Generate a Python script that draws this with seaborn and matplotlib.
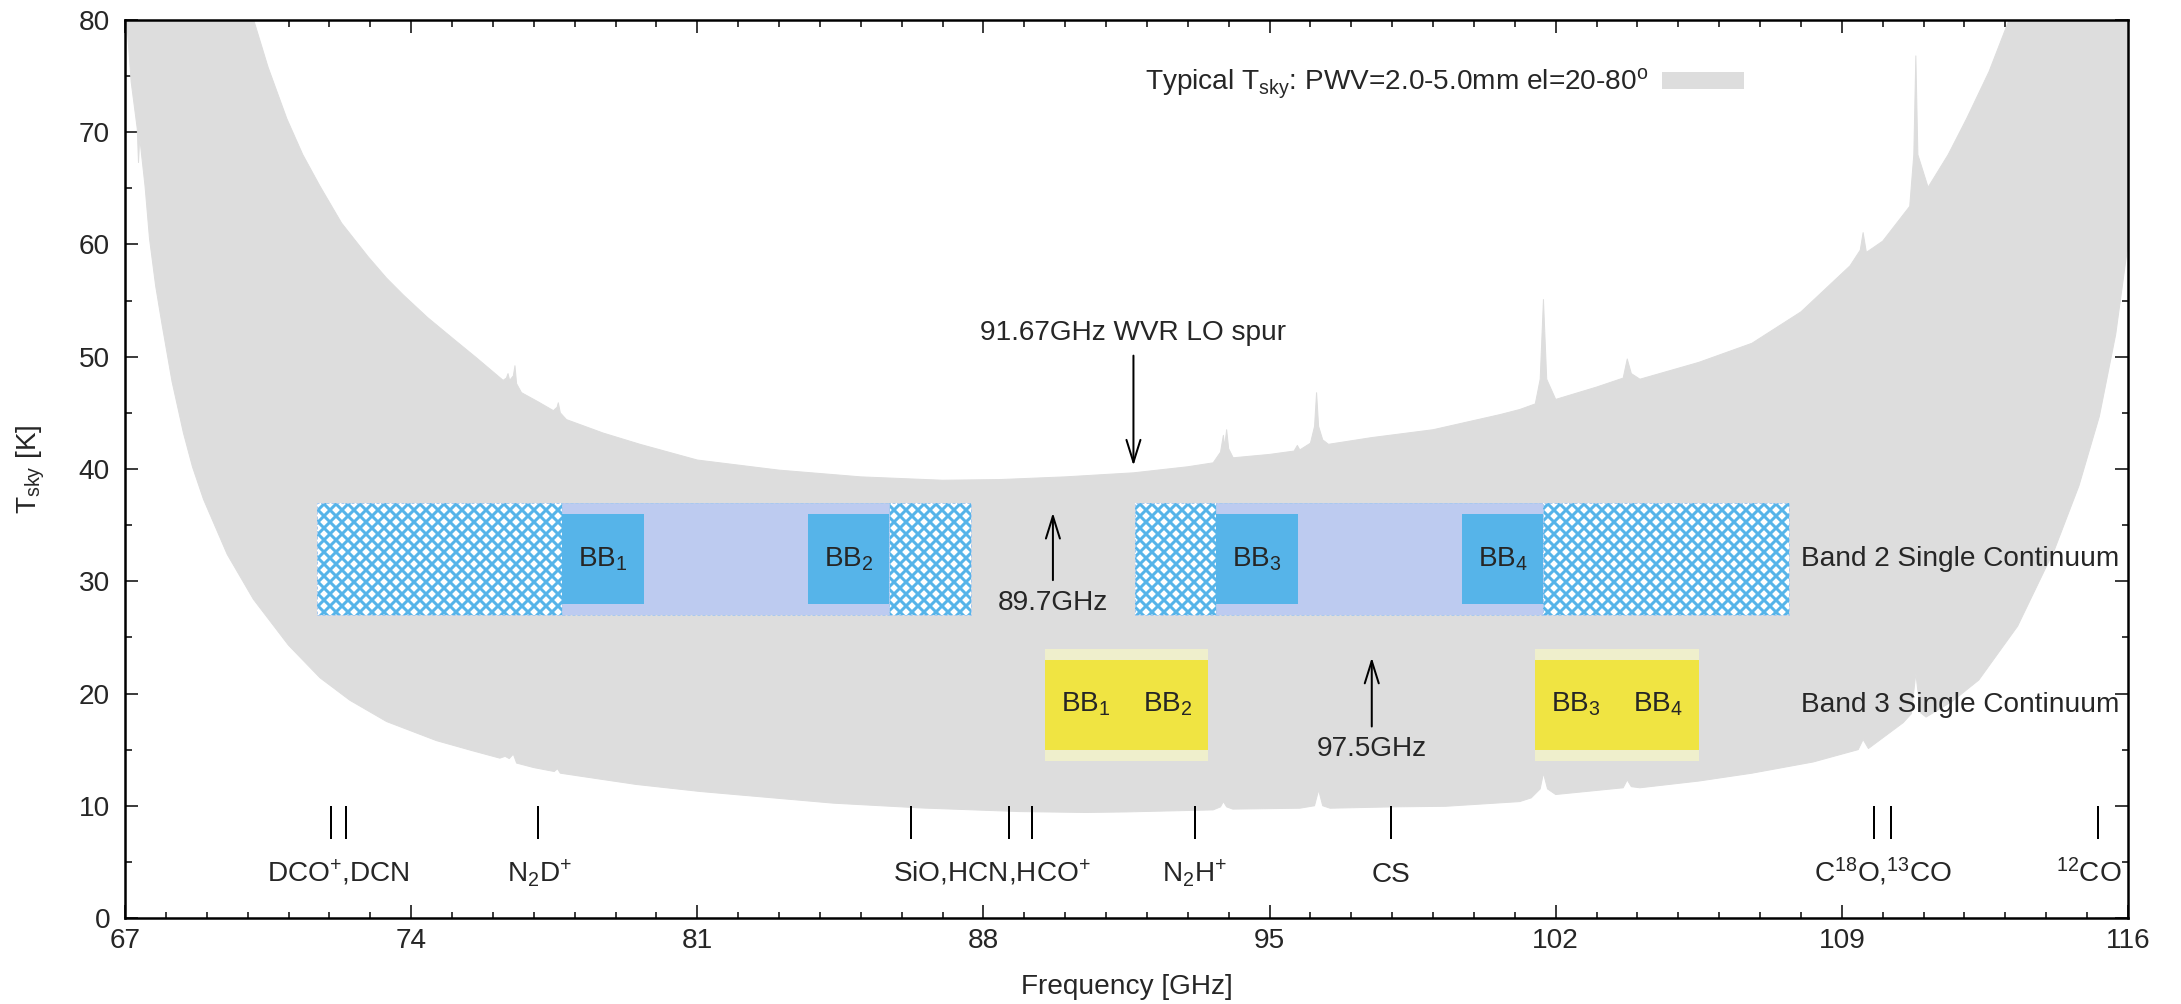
import numpy as np
import pandas as pd
import matplotlib
matplotlib.use("Agg")
import matplotlib.pyplot as plt
import seaborn as sns
from matplotlib.patches import Rectangle

# --- sky temperature envelope ---
# upper edge: PWV=5.0mm, el=20 deg
hi_freq = [69.9, 70.14, 70.5, 70.96, 71.35, 71.77, 72.3, 72.95, 73.4, 73.81, 74.4, 75.03,
           75.6, 76.25, 76.33, 76.37, 76.41, 76.50, 76.54, 76.58, 76.7, 77.1, 77.48, 77.57,
           77.6, 77.65, 77.8, 78.7, 79.6, 81.0, 83.0, 85.0, 87.0, 88.4, 90.0, 91.67, 93.0,
           93.62, 93.8, 93.87, 93.9, 93.95, 94.0, 94.11, 95.0, 95.6, 95.68, 95.74, 96.0,
           96.1, 96.15, 96.2, 96.3, 96.44, 97.5, 99.0, 100.64, 101.12, 101.5, 101.62,
           101.7, 101.78, 102.0, 103.0, 103.65, 103.75, 103.85, 104.06, 105.5, 106.8,
           108.0, 109.2, 109.45, 109.52, 109.6, 110.0, 110.66, 110.76, 110.81, 110.86,
           111.11, 111.6, 112.05, 112.6, 113.1, 113.3]
hi_tsky = [82.5, 80.1, 75.8, 71.2, 68.0, 65.2, 61.9, 58.9, 57.0, 55.5, 53.5, 51.6,
           49.9, 47.9, 48.1, 48.5, 47.9, 48.3, 49.2, 47.6, 46.8, 46.0, 45.2, 45.5,
           45.9, 45.0, 44.4, 43.2, 42.2, 40.8, 39.9, 39.3, 39.0, 39.06, 39.3, 39.66, 40.2,
           40.55, 41.5, 43.0, 42.0, 43.5, 41.8, 41.0, 41.3, 41.6, 42.1, 41.7, 42.3,
           43.8, 46.8, 43.8, 42.6, 42.2, 42.8, 43.5, 44.85, 45.3, 45.8, 48.0,
           55.1, 48.0, 46.2, 47.3, 48.1, 49.8, 48.5, 48.0, 49.5, 51.2,
           54.0, 58.1, 59.5, 61.06, 59.3, 60.3, 63.4, 68.0, 76.8, 68.0,
           65.1, 68.0, 71.2, 75.4, 80.1, 82.5]

# lower edge: PWV=2.0mm, el=80 deg
lo_freq = [67.0, 67.04, 67.15, 67.3, 67.33, 67.36, 67.49, 67.6, 67.75, 67.9, 68.15, 68.43,
           68.65, 68.92, 69.5, 70.14, 71.0, 71.77, 72.5, 73.4, 74.62, 75.5, 76.17, 76.3,
           76.4, 76.5, 76.58, 77.0, 77.5, 77.58, 77.65, 78.2, 79.5, 81.07, 84.33, 86.5,
           88.89, 90.5, 91.5, 93.62, 93.8, 93.87, 93.95, 94.1, 95.74, 96.1, 96.2, 96.3,
           96.48, 98.0, 99.3, 101.12, 101.4, 101.62, 101.7, 101.8, 102.0, 103.65, 103.75,
           103.85, 104.06, 105.5, 106.8, 108.3, 109.4, 109.52, 109.65, 110.5, 110.7,
           110.81, 110.92, 111.06, 111.7, 112.35, 113.3, 114.2, 114.8, 115.3, 115.7,
           116.0, 116.3]
lo_tsky = [82.0, 80.0, 74.5, 70.3, 67.3, 69.5, 65.2, 60.5, 56.3, 53.0, 47.8, 43.2,
           40.2, 37.3, 32.4, 28.4, 24.3, 21.4, 19.4, 17.5, 15.8, 14.9, 14.24, 14.4,
           14.2, 14.6, 13.8, 13.4, 13.05, 13.3, 12.9, 12.6, 11.9, 11.27, 10.23, 9.8,
           9.48, 9.4, 9.45, 9.63, 9.9, 10.37, 9.9, 9.7, 9.78, 10.0, 11.4, 10.0,
           9.78, 9.9, 9.95, 10.37, 10.7, 11.5, 12.9, 11.5, 11.0, 11.6, 12.3,
           11.7, 11.6, 12.2, 12.9, 13.9, 15.0, 15.9, 15.1, 17.4, 18.2,
           21.8, 18.3, 17.9, 19.3, 21.2, 26.0, 32.8, 38.5, 44.7, 52.0,
           60.0, 82.0]

# --- spectral lines ---
line_freq = [72.04, 72.41, 77.11, 86.24, 88.63, 89.19, 93.17, 97.98, 109.78, 110.20, 115.27]
line_labels = ["DCO$^{+}$,DCN", "N$_{2}$D$^{+}$", "SiO,HCN,HCO$^{+}$", "N$_{2}$H$^{+}$",
               "CS", "C$^{18}$O,$^{13}$CO", "$^{12}$CO"]
line_label_x = [72.23, 77.15, 88.2, 93.17, 97.98, 110.0, 115.05]

# --- Band 2 single continuum (LO 89.7 GHz) ---
b2_hatch = [(71.7, 77.7), (85.7, 87.7), (91.7, 93.7), (101.7, 107.7)]
b2_side = [(77.7, 85.7), (93.7, 101.7)]
b2_bb = [(77.7, 79.7), (83.7, 85.7), (93.7, 95.7), (99.7, 101.7)]
b2_bb_names = ["BB$_{1}$", "BB$_{2}$", "BB$_{3}$", "BB$_{4}$"]

# --- Band 3 single continuum (LO 97.5 GHz) ---
b3_side = [(89.5, 93.5), (101.5, 105.5)]
b3_bb_x = [90.5, 92.5, 102.5, 104.5]
b3_bb_names = ["BB$_{1}$", "BB$_{2}$", "BB$_{3}$", "BB$_{4}$"]

GRAY = "#dddddd"
SKY = "#56b4e9"
LAVENDER = "#bdcbf0"
YELLOW = "#f0e442"
PALE_YELLOW = "#efefcc"
FS = 28

sns.set_style("ticks")
plt.rcParams["font.family"] = ["Liberation Sans", "DejaVu Sans"]
plt.rcParams["mathtext.fontset"] = "custom"
plt.rcParams["mathtext.rm"] = "Liberation Sans"
plt.rcParams["mathtext.it"] = "Liberation Sans:italic"
plt.rcParams["mathtext.default"] = "rm"
plt.rcParams["hatch.linewidth"] = 3.0

fig = plt.figure(figsize=(2181 / 72, 1004 / 72), dpi=72)
ax = fig.add_axes([125 / 2181, 86 / 1004, 2003 / 2181, 898 / 1004])

hi = pd.DataFrame({"freq": hi_freq, "tsky": hi_tsky})
lo = pd.DataFrame({"freq": lo_freq, "tsky": lo_tsky})

# envelope between the two curves
poly_x = list(hi["freq"]) + list(lo["freq"][::-1])
poly_y = list(hi["tsky"]) + list(lo["tsky"][::-1])
ax.fill(poly_x, poly_y, color=GRAY, lw=0, zorder=1,
        label="Typical T$_{sky}$: PWV=2.0-5.0mm el=20-80$^{o}$")
sns.lineplot(data=hi, x="freq", y="tsky", color=GRAY, lw=1, ax=ax, zorder=1, sort=False)
sns.lineplot(data=lo, x="freq", y="tsky", color=GRAY, lw=1, ax=ax, zorder=1, sort=False)

# band 2 boxes
for x0, x1 in b2_hatch:
    ax.add_patch(Rectangle((x0, 27), x1 - x0, 10, facecolor="white", edgecolor=SKY,
                           hatch="xx", lw=0, zorder=2))
for x0, x1 in b2_side:
    ax.add_patch(Rectangle((x0, 27), x1 - x0, 10, facecolor=LAVENDER, lw=0, zorder=2))
for x0, x1 in b2_hatch + b2_side:
    ax.add_patch(Rectangle((x0, 27), x1 - x0, 10, fill=False, edgecolor="#a9c9ee",
                           lw=1, ls=(0, (3, 2)), zorder=2.5))
for (x0, x1), name in zip(b2_bb, b2_bb_names):
    ax.add_patch(Rectangle((x0, 28), x1 - x0, 8, facecolor=SKY, lw=0, zorder=3))
    ax.text((x0 + x1) / 2, 32, name, ha="center", va="center", fontsize=FS, zorder=4)

# band 3 boxes
for x0, x1 in b3_side:
    ax.add_patch(Rectangle((x0, 14), x1 - x0, 10, facecolor=PALE_YELLOW, lw=0, zorder=2))
    ax.add_patch(Rectangle((x0, 15), x1 - x0, 8, facecolor=YELLOW, lw=0, zorder=3))
for x, name in zip(b3_bb_x, b3_bb_names):
    ax.text(x, 19, name, ha="center", va="center", fontsize=FS, zorder=4)

ax.text(108.0, 32, "Band 2 Single Continuum", ha="left", va="center", fontsize=FS)
ax.text(108.0, 19, "Band 3 Single Continuum", ha="left", va="center", fontsize=FS)

# LO markers and spur
arrow = dict(arrowstyle="->,head_length=0.8,head_width=0.25", lw=2, color="black",
             mutation_scale=28, shrinkA=0, shrinkB=0)
ax.annotate("", xy=(91.67, 40.3), xytext=(91.67, 50.1), arrowprops=arrow)
ax.text(91.67, 52.1, "91.67GHz WVR LO spur", ha="center", va="center", fontsize=FS)
ax.annotate("", xy=(89.7, 36.1), xytext=(89.7, 30.1), arrowprops=arrow)
ax.text(89.7, 28.1, "89.7GHz", ha="center", va="center", fontsize=FS)
ax.annotate("", xy=(97.5, 23.2), xytext=(97.5, 17.06), arrowprops=arrow)
ax.text(97.5, 15.1, "97.5GHz", ha="center", va="center", fontsize=FS)

# molecular lines
ax.vlines(line_freq, 7, 10, color="black", lw=2, zorder=4)
for x, lab in zip(line_label_x, line_labels):
    ax.text(x, 3.2, lab, ha="center", va="baseline", fontsize=FS)

ax.set_xlim(67, 116)
ax.set_ylim(0, 80)
ax.set_xticks(np.arange(67, 117, 7))
ax.set_xticks(np.arange(67, 117, 1), minor=True)
ax.set_yticks(np.arange(0, 81, 10))
ax.set_yticks(np.arange(0, 81, 5), minor=True)
ax.tick_params(which="both", direction="in", top=True, right=True, width=1.5,
               labelsize=FS, color="black")
ax.tick_params(which="major", length=13)
ax.tick_params(which="minor", length=6.5)
ax.tick_params(axis="x", pad=10)
ax.tick_params(axis="y", pad=15)
for s in ax.spines.values():
    s.set_linewidth(2.5)
    s.set_color("black")
    s.set_zorder(5)

ax.set_xlabel("Frequency [GHz]", fontsize=FS, labelpad=20)
ax.set_ylabel("T$_{sky}$ [K]", fontsize=FS, labelpad=32)

ax.legend(loc="center right", bbox_to_anchor=(0.8083, 0.9287), frameon=False,
          fontsize=FS, markerfirst=False, handlelength=2.93, handleheight=0.54,
          handletextpad=0.5, borderpad=0, borderaxespad=0)

fig.savefig("out.png", dpi=72)
